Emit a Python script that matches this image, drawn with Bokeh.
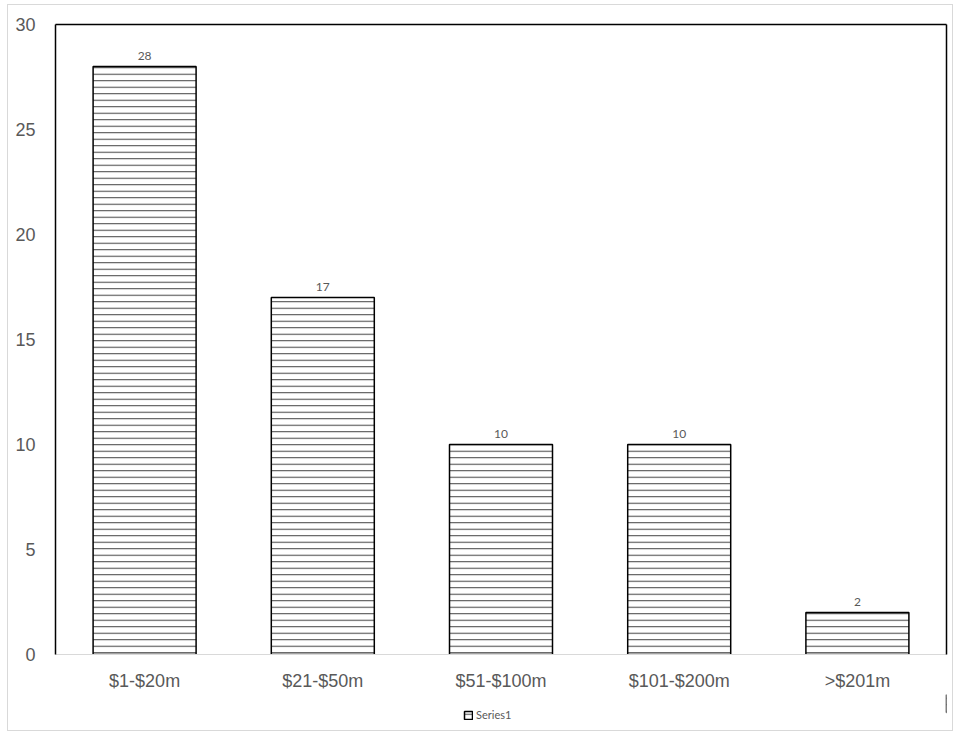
from bokeh.plotting import figure
from bokeh.layouts import column
from bokeh.models import (ColumnDataSource, LabelSet, Legend, LegendItem, FactorRange,
                          Range1d, FixedTicker, LinearAxis, CategoricalAxis)
from bokeh.core.properties import value
from bokeh.embed import file_html
from bokeh.resources import INLINE

categories = ["$1-$20m", "$21-$50m", "$51-$100m", "$101-$200m", ">$201m"]
values = [28, 17, 10, 10, 2]
y_ticks = [0, 5, 10, 15, 20, 25, 30]
series_name = "Series1"

src = ColumnDataSource(dict(cat=categories, val=values, lab=[str(v) for v in values]))

bar_style = dict(fill_color="white", line_color="black", line_width=1.5,
                 hatch_pattern="horizontal_line", hatch_color="#404040",
                 hatch_weight=1, hatch_scale=6.5)

p = figure(x_range=FactorRange(*categories), y_range=Range1d(0, 30),
           frame_width=891, frame_height=630, output_backend="svg", toolbar_location=None,
           min_border_left=47, min_border_top=19, min_border_right=6, min_border_bottom=40)
p.outline_line_color = None
p.grid.visible = False

r = p.vbar(x="cat", top="val", width=0.578, source=src, **bar_style)

lbl_color = "#595959"
ya = p.yaxis[0]
ya.ticker = FixedTicker(ticks=y_ticks)
ya.axis_line_color = "black"
ya.axis_line_width = 1.5
ya.major_tick_line_color = None
ya.minor_tick_line_color = None
ya.major_label_text_font = "Liberation Sans"
ya.major_label_text_font_size = "18px"
ya.major_label_text_color = lbl_color
ya.major_label_standoff = 14

xa = p.xaxis[0]
xa.axis_line_color = "#d9d9d9"
xa.axis_line_width = 1
xa.major_tick_line_color = None
xa.major_label_text_font = "Liberation Sans"
xa.major_label_text_font_size = "18px"
xa.major_label_text_color = lbl_color
xa.major_label_standoff = 10

top_ax = CategoricalAxis(ticker=FixedTicker(ticks=[]),
                         axis_line_color="black", axis_line_width=1.5,
                         major_tick_line_color=None, minor_tick_line_color=None,
                         major_label_standoff=0)
p.add_layout(top_ax, "above")
right_ax = LinearAxis(ticker=FixedTicker(ticks=[]), axis_line_color="black", axis_line_width=1.5,
                      major_tick_line_color=None, minor_tick_line_color=None,
                      major_label_standoff=0)
p.add_layout(right_ax, "right")

labels = LabelSet(x="cat", y="val", text="lab", source=src, y_offset=7,
                  text_align="center", text_baseline="bottom",
                  text_font=value("Lato"), text_font_size="12px", text_color=lbl_color)
p.add_layout(labels)

# legend strip below the chart (its proxy bar sits outside the visible range)
lf = figure(x_range=Range1d(0, 1), y_range=Range1d(0, 1), width=944, height=36,
            output_backend="svg", toolbar_location=None, min_border=0)
lf.axis.visible = False
lf.grid.visible = False
lf.outline_line_color = None
lr = lf.vbar(x=[10], top=[1], bottom=[0.5], width=0.5, **bar_style)
legend = Legend(items=[LegendItem(label=series_name, renderers=[lr])],
                orientation="horizontal", location=(408, 9),
                border_line_color=None, background_fill_alpha=0,
                label_text_font="Lato", label_text_font_size="11px",
                label_text_color=lbl_color, glyph_width=10, glyph_height=10,
                label_standoff=3, padding=0, margin=0, label_height=10)
lf.add_layout(legend, "center")

layout = column(p, lf, spacing=0)
layout.styles = {"border": "1px solid #d9d9d9"}
layout.margin = (4, 0, 0, 7)

open("out.html", "w").write(file_html(layout, INLINE))
